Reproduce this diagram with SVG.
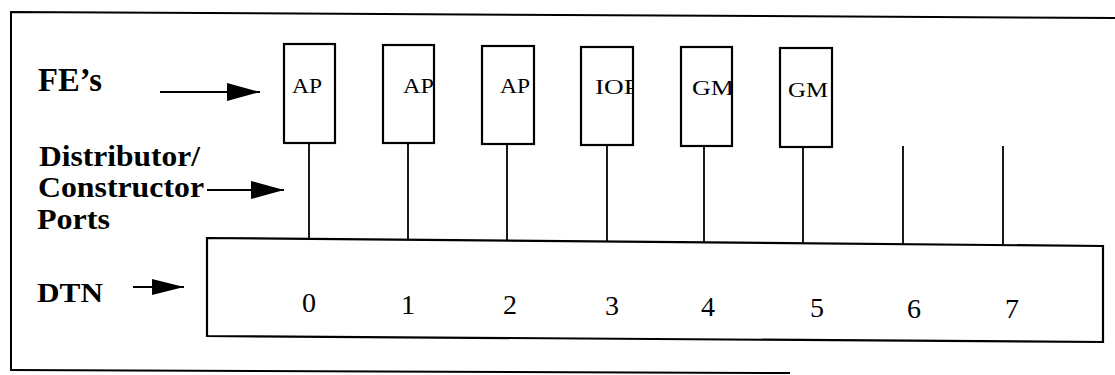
<svg xmlns="http://www.w3.org/2000/svg" width="1115" height="375" viewBox="0 0 1115 375">
<style>
.frame{fill:none;stroke:#000;stroke-width:2}
.box{fill:#fff;stroke:#000;stroke-width:2.2}
.ln{stroke:#000;stroke-width:1.8;fill:none}
.lbl{font-family:"Liberation Serif","Times New Roman",serif;font-weight:700;fill:#000}
.fe{font-family:"Liberation Serif","Times New Roman",serif;font-size:21px;fill:#000}
.num{font-family:"Liberation Serif","Times New Roman",serif;font-size:28px;fill:#000;text-anchor:middle}
</style>
<defs>
<marker id="ah" markerWidth="33" markerHeight="18" refX="33" refY="9" markerUnits="userSpaceOnUse" orient="auto">
<path d="M0,0 L33,9 L0,18 Z" fill="#000"/>
</marker>
<marker id="ah2" markerWidth="32" markerHeight="16" refX="32" refY="8" markerUnits="userSpaceOnUse" orient="auto">
<path d="M0,0 L32,8 L0,16 Z" fill="#000"/>
</marker>
<clipPath id="c1"><rect x="284" y="44" width="51" height="99"/></clipPath>
<clipPath id="c2"><rect x="383" y="45" width="51" height="98"/></clipPath>
<clipPath id="c3"><rect x="482" y="46" width="52" height="98"/></clipPath>
<clipPath id="c4"><rect x="581" y="47" width="52" height="98"/></clipPath>
<clipPath id="c5"><rect x="681" y="47" width="51" height="99"/></clipPath>
<clipPath id="c6"><rect x="780" y="48" width="52" height="99"/></clipPath>
</defs>
<rect width="1115" height="375" fill="#fff"/>
<g id="frame">
<path class="frame" d="M11,371 L11,12 L1115,18"/>
<path class="frame" d="M11,370 L790,373"/>
</g>
<g id="labels">
<text class="lbl" x="38" y="91" font-size="33" textLength="64" lengthAdjust="spacingAndGlyphs">FE’s</text>
<text class="lbl" x="39" y="166" font-size="29" textLength="161" lengthAdjust="spacingAndGlyphs">Distributor/</text>
<text class="lbl" x="38" y="197" font-size="29" textLength="166" lengthAdjust="spacingAndGlyphs">Constructor</text>
<text class="lbl" x="37" y="229" font-size="29" textLength="73" lengthAdjust="spacingAndGlyphs">Ports</text>
<text class="lbl" x="37" y="302" font-size="28" textLength="66" lengthAdjust="spacingAndGlyphs">DTN</text>
</g>
<g id="connectors">
<line class="ln" x1="160" y1="92" x2="260" y2="92" marker-end="url(#ah)"/>
<line class="ln" x1="207" y1="190" x2="284" y2="190" marker-end="url(#ah)"/>
<line class="ln" x1="133" y1="287" x2="184" y2="287" marker-end="url(#ah2)"/>
<line class="ln" x1="309" y1="143" x2="309" y2="239"/>
<line class="ln" x1="408" y1="143" x2="408" y2="240"/>
<line class="ln" x1="507" y1="144" x2="507" y2="241"/>
<line class="ln" x1="607" y1="145" x2="607" y2="242"/>
<line class="ln" x1="704" y1="145" x2="704" y2="243"/>
<line class="ln" x1="803" y1="146" x2="803" y2="243"/>
<line class="ln" x1="903" y1="146" x2="903" y2="244"/>
<line class="ln" x1="1003" y1="146" x2="1003" y2="245"/>
</g>
<g id="fe0"><rect class="box" x="284" y="44" width="51" height="99"/><text class="fe" x="292" y="93" textLength="30" lengthAdjust="spacingAndGlyphs" clip-path="url(#c1)">AP</text></g>
<g id="fe1"><rect class="box" x="383" y="45" width="51" height="98"/><text class="fe" x="403" y="93" textLength="31" lengthAdjust="spacingAndGlyphs" clip-path="url(#c2)">AP</text></g>
<g id="fe2"><rect class="box" x="482" y="46" width="52" height="98"/><text class="fe" x="500" y="93" textLength="30" lengthAdjust="spacingAndGlyphs" clip-path="url(#c3)">AP</text></g>
<g id="fe3"><rect class="box" x="581" y="47" width="52" height="98"/><text class="fe" x="595" y="94" textLength="44" lengthAdjust="spacingAndGlyphs" clip-path="url(#c4)">IOP</text></g>
<g id="fe4"><rect class="box" x="681" y="47" width="51" height="99"/><text class="fe" x="692" y="95" textLength="42" lengthAdjust="spacingAndGlyphs" clip-path="url(#c5)">GM</text></g>
<g id="fe5"><rect class="box" x="780" y="48" width="52" height="99"/><text class="fe" x="788" y="97" textLength="40" lengthAdjust="spacingAndGlyphs" clip-path="url(#c6)">GM</text></g>
<g id="dtn">
<polygon class="box" points="207,238 1103,246 1103,342 207,336"/>
<text class="num" x="309" y="312">0</text>
<text class="num" x="408" y="314">1</text>
<text class="num" x="510" y="314">2</text>
<text class="num" x="612" y="315">3</text>
<text class="num" x="708" y="316">4</text>
<text class="num" x="817" y="317">5</text>
<text class="num" x="914" y="318">6</text>
<text class="num" x="1012" y="318">7</text>
</g>
</svg>
